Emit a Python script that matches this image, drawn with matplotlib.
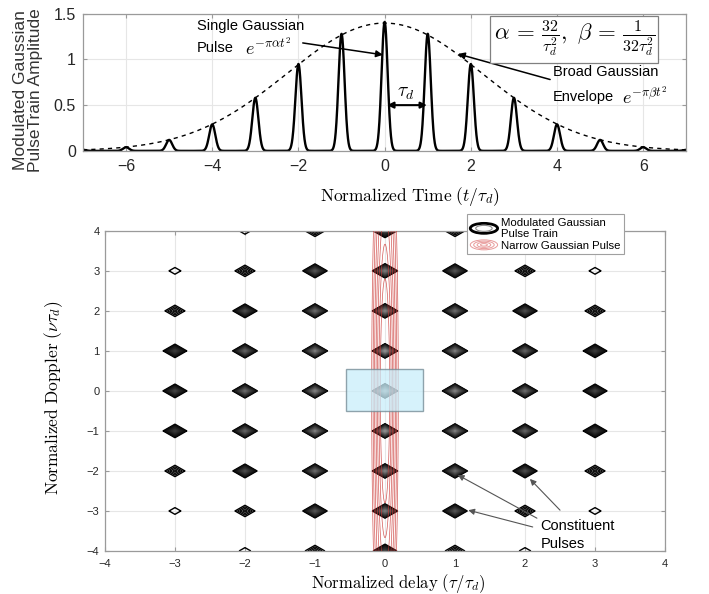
"""
Gaussian pulse train (top) and its ambiguity contours (bottom).
"""

import matplotlib

matplotlib.use("Agg")
import matplotlib.pyplot as plt
import numpy as np
from matplotlib.legend_handler import HandlerBase
from matplotlib.patches import Ellipse, Patch, Rectangle

plt.rcParams["font.family"] = ["Liberation Sans", "DejaVu Sans"]
plt.rcParams["mathtext.fontset"] = "cm"

# ---------------------------------------------------------------------------
# Data
# ---------------------------------------------------------------------------

# top panel: pulse centres and peak heights
pulse_t = [-7, -6, -5, -4, -3, -2, -1, 0, 1, 2, 3, 4, 5, 6, 7]
pulse_peaks = [0.012, 0.04, 0.12, 0.29, 0.58, 0.95, 1.28, 1.41,
               1.28, 0.95, 0.58, 0.29, 0.12, 0.04, 0.012]
pulse_alpha = 32  # narrow pulse, from the annotation

top_xticks = [-6, -4, -2, 0, 2, 4, 6]
top_yticks = [0, 0.5, 1, 1.5]
top_yticklabels = ["0", "0.5", "1", "1.5"]

# bottom panel: relative strength of each constituent pulse
delays = [-3, -2, -1, 0, 1, 2, 3]
dopplers = [4, 3, 2, 1, 0, -1, -2, -3, -4]
pulse_strength = [
    [0.00, 0.09, 0.20, 0.50, 0.20, 0.09, 0.00],
    [0.09, 0.20, 0.60, 0.85, 0.60, 0.20, 0.09],
    [0.20, 0.55, 0.75, 0.90, 0.75, 0.55, 0.20],
    [0.45, 0.70, 0.85, 1.00, 0.85, 0.70, 0.45],
    [0.50, 0.75, 0.90, 1.00, 0.90, 0.75, 0.50],
    [0.45, 0.70, 0.85, 1.00, 0.85, 0.70, 0.45],
    [0.20, 0.55, 0.75, 0.90, 0.75, 0.55, 0.20],
    [0.09, 0.20, 0.60, 0.85, 0.60, 0.20, 0.09],
    [0.00, 0.09, 0.20, 0.50, 0.20, 0.09, 0.00],
]
bottom_ticks = [-4, -3, -2, -1, 0, 1, 2, 3, 4]

# narrow single pulse: half-width in delay, half-height in Doppler
narrow_halfwidth = 0.19
narrow_halfheight = 8.0

GRID = "#e6e6e6"
SPINE = "#9a9a9a"
TICKTXT = "#262626"


class HandlerRings(HandlerBase):
    """Legend icon made of concentric ellipses."""

    def __init__(self, colors, scales, lws):
        super().__init__()
        self.colors, self.scales, self.lws = colors, scales, lws

    def create_artists(self, legend, orig_handle, xdescent, ydescent,
                       width, height, fontsize, trans):
        cx = width / 2 - xdescent
        cy = height / 2 - ydescent
        out = []
        for c, s, lw in zip(self.colors, self.scales, self.lws):
            out.append(Ellipse((cx, cy), width * s, height * 1.25 * s,
                               fill=False, edgecolor=c, lw=lw, transform=trans))
        return out


def style_axes(ax, labelsize):
    ax.grid(True, color=GRID, lw=0.8)
    ax.set_axisbelow(True)
    for sp in ax.spines.values():
        sp.set_color(SPINE)
        sp.set_linewidth(0.9)
    ax.tick_params(direction="in", top=True, right=True, length=3,
                   color=SPINE, labelcolor=TICKTXT, labelsize=labelsize)


fig = plt.figure(figsize=(7.09, 5.94), dpi=100)

# ---------------------------------------------------------------------------
# Top: modulated Gaussian pulse train
# ---------------------------------------------------------------------------
ax1 = fig.add_axes([0.117, 0.746, 0.851, 0.231])
t = np.linspace(-7, 7, 5000)
train = np.zeros_like(t)
for c, a in zip(pulse_t, pulse_peaks):
    train += a * np.exp(-np.pi * pulse_alpha * (t - c) ** 2)

# envelope: Gaussian fitted through the read peaks
k, b = np.polyfit(np.array(pulse_t) ** 2, np.log(pulse_peaks), 1)
envelope = np.exp(b + k * t ** 2)

ax1.plot(t, envelope, color="black", lw=1.0, ls=(0, (3, 3)))
ax1.plot(t, train, color="black", lw=1.7)
ax1.set_xlim(-7, 7)
ax1.set_ylim(0, 1.5)
ax1.set_xticks(top_xticks)
ax1.set_yticks(top_yticks)
ax1.set_yticklabels(top_yticklabels)
style_axes(ax1, 11.5)
ax1.tick_params(axis="x", pad=6)
ax1.tick_params(axis="y", pad=5)
ax1.set_xlabel(r"$\mathrm{Normalized\ Time\ }(t/\tau_d)$", fontsize=12.5)
ax1.xaxis.set_label_coords(0.542, -0.25)
ax1.set_ylabel("Modulated Gaussian\nPulseTrain Amplitude", fontsize=12.5,
               color="#333333", linespacing=1.0)
ax1.yaxis.set_label_coords(-0.066, 0.44)

ax1.text(-4.35, 1.37, "Single Gaussian", fontsize=10.5, va="center")
ax1.text(-4.35, 1.12, "Pulse", fontsize=10.5, va="center")
ax1.text(-3.25, 1.12, r"$e^{-\pi\alpha t^2}$", fontsize=13, va="center")
ax1.annotate("", xy=(-0.04, 1.05), xytext=(-1.9, 1.18),
             arrowprops=dict(arrowstyle="-|>", color="black", lw=1.1,
                             mutation_scale=10, shrinkA=0, shrinkB=0))

ax1.text(3.9, 0.865, "Broad Gaussian", fontsize=10.5, va="center")
ax1.text(3.9, 0.59, "Envelope", fontsize=10.5, va="center")
ax1.text(5.5, 0.59, r"$e^{-\pi\beta t^2}$", fontsize=13, va="center")
ax1.annotate("", xy=(1.70, 1.06), xytext=(3.84, 0.78),
             arrowprops=dict(arrowstyle="-|>", color="black", lw=1.1,
                             mutation_scale=10, shrinkA=0, shrinkB=0))

ax1.annotate("", xy=(0.06, 0.5), xytext=(0.98, 0.5),
             arrowprops=dict(arrowstyle="<|-|>", color="black", lw=1.5,
                             mutation_scale=9, shrinkA=0, shrinkB=0))
ax1.text(0.5, 0.63, r"$\tau_d$", fontsize=14, ha="center", va="center")

ax1.text(4.4, 1.22,
         r"$\alpha\,=\,\frac{32}{\tau_d^2},\ \beta\,=\,\frac{1}{32\tau_d^2}$",
         fontsize=16.5, ha="center", va="center",
         bbox=dict(boxstyle="square,pad=0.15", fc="white", ec="#808080", lw=0.9))

# ---------------------------------------------------------------------------
# Bottom: ambiguity contours
# ---------------------------------------------------------------------------
ax2 = fig.add_axes([0.148, 0.0724, 0.790, 0.539])
x = np.linspace(-4, 4, 1201)
X, Y = np.meshgrid(x, x)
sx, sy, p = 0.19, 0.19, 1.0
Z = np.zeros_like(X)
for row, m in zip(pulse_strength, dopplers):
    for w, n in zip(row, delays):
        if w <= 0:
            continue
        d = ((np.abs(X - n) / sx) ** p + (np.abs(Y - m) / sy) ** p) ** (1 / p)
        Z += w * np.clip(1 - d, 0, None)

levels = np.arange(0.05, 1.0, 0.04)
gray_cols = plt.cm.gray(np.linspace(0.0, 0.55, len(levels)))
ax2.contour(X, Y, Z, levels=levels, colors=gray_cols, linewidths=1.0, zorder=2)

G = (X / narrow_halfwidth) ** 2 + (Y / narrow_halfheight) ** 2
red_levels = np.linspace(0.35, 1.0, 7) ** 2
ax2.contour(X, Y, G, levels=red_levels, colors="#cc3b38", linewidths=0.5,
            alpha=0.85, zorder=3)

ax2.add_patch(Rectangle((-0.55, -0.5), 1.1, 1.05, facecolor="#c9eefa",
                        alpha=0.75, edgecolor="#6f8791", lw=1.0, zorder=4))

ax2.set_xlim(-4, 4)
ax2.set_ylim(-4, 4)
ax2.set_xticks(bottom_ticks)
ax2.set_yticks(bottom_ticks)
style_axes(ax2, 8)
ax2.tick_params(axis="x", pad=6)
ax2.tick_params(axis="y", pad=4)
ax2.set_xlabel(r"$\mathrm{Normalized\ delay\ }(\tau/\tau_d)$", fontsize=12)
ax2.xaxis.set_label_coords(0.523, -0.066)
ax2.set_ylabel(r"$\mathrm{Normalized\ Doppler\ }(\nu\tau_d)$", fontsize=12.5)
ax2.yaxis.set_label_coords(-0.072, 0.48)

ax2.text(2.22, -3.6, "Constituent\nPulses", fontsize=10.5, va="center",
         linespacing=1.3, zorder=6)
arrow_kw = dict(arrowstyle="-|>", color="#555555", lw=0.8,
                mutation_scale=9, shrinkA=0, shrinkB=0)
ax2.annotate("", xy=(1.04, -2.1), xytext=(2.17, -3.18), arrowprops=arrow_kw, zorder=6)
ax2.annotate("", xy=(2.07, -2.2), xytext=(2.5, -2.98), arrowprops=arrow_kw, zorder=6)
ax2.annotate("", xy=(1.19, -2.98), xytext=(2.11, -3.4), arrowprops=arrow_kw, zorder=6)

h_train = Patch(label="Modulated Gaussian\nPulse Train")
h_narrow = Patch(label="Narrow Gaussian Pulse")
leg = ax2.legend(
    handles=[h_train, h_narrow],
    handler_map={
        h_train: HandlerRings(["black", "#8a8a8a"], [1.0, 0.6], [2.0, 0.8]),
        h_narrow: HandlerRings(["#e89a9a"] * 4, [1.0, 0.75, 0.5, 0.25],
                               [0.7] * 4),
    },
    loc="upper left", bbox_to_anchor=(0.636, 1.07), fontsize=8.2,
    frameon=True, fancybox=False, framealpha=1, edgecolor="#a0a0a0",
    handlelength=2.4, handletextpad=0.3, borderpad=0.3, labelspacing=0.15,
)
leg.get_frame().set_linewidth(0.8)
leg.set_zorder(10)

fig.savefig("out.png", dpi=100)
